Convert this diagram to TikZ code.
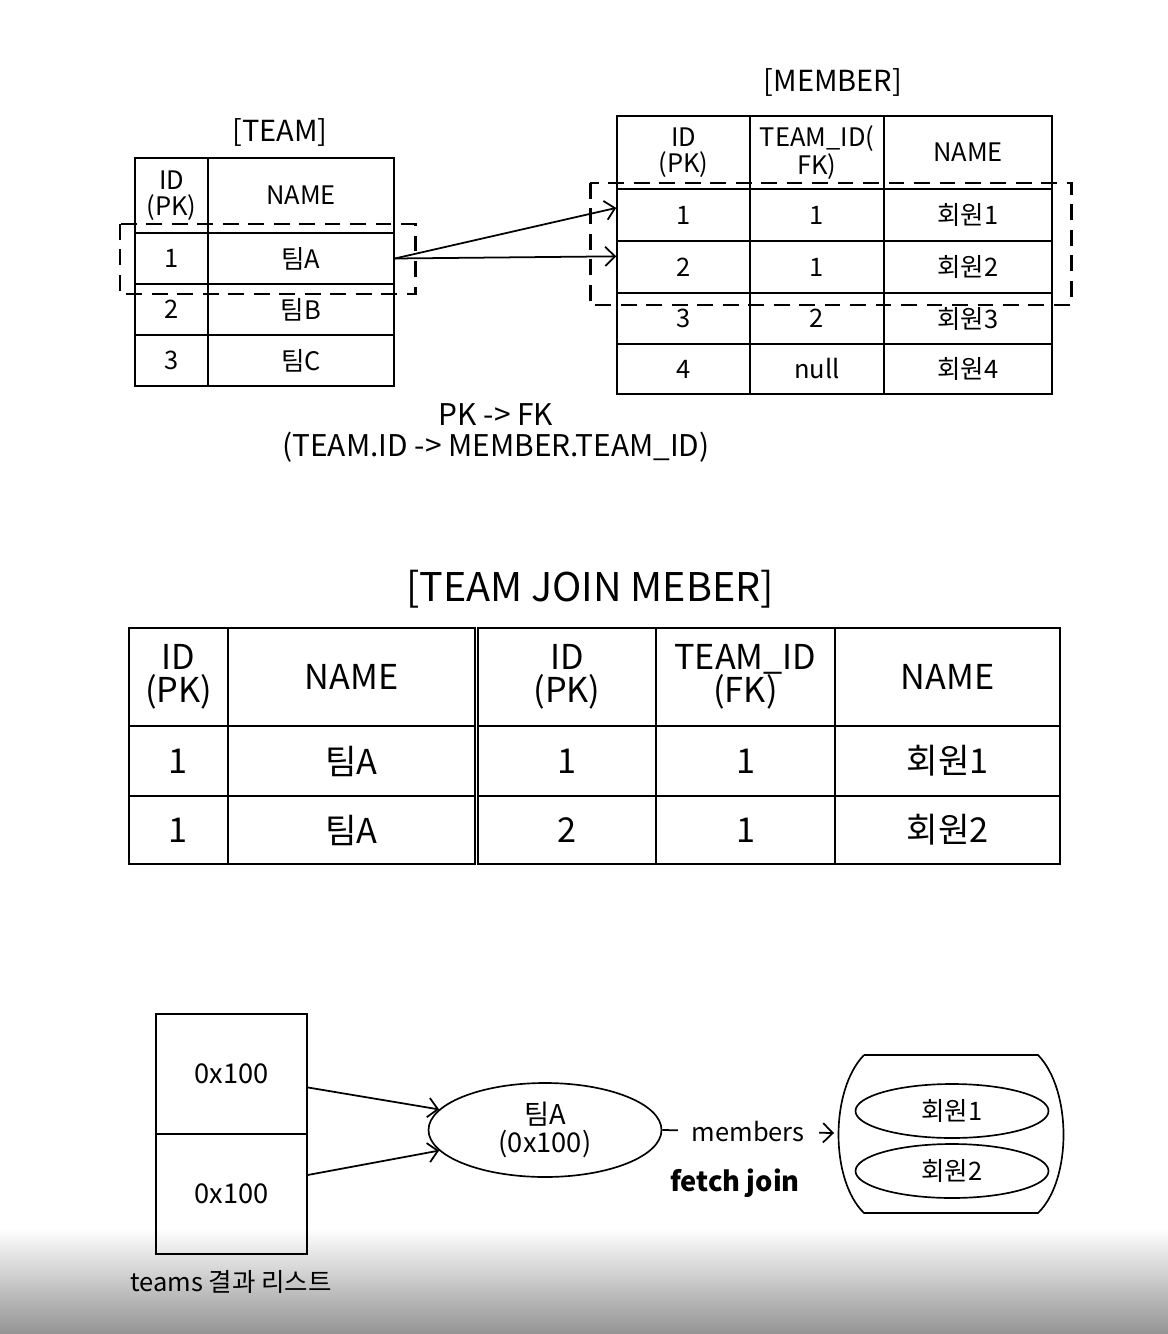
\documentclass[tikz,border=0pt]{standalone}
\usepackage{fontspec}
\setmainfont{Noto Sans CJK KR}
\usetikzlibrary{shapes.geometric,arrows.meta}

\newcommand\pxu{0.02cm}
% one table cell: name, x1, y1, x2, y2, text
\newcommand\tcell[6]{\node[cell, minimum width={(#4-#2)*\pxu}, minimum height={(#5-#3)*\pxu}]
  (#1) at ({(#2+#4)/2},{(#3+#5)/2}) {#6};}

\begin{document}
\begin{tikzpicture}[x=0.02cm, y=-0.02cm,
  cell/.style={draw, line width=0.95pt, inner sep=0pt, align=center,
    font=\fontsize{14.5}{14.5}\selectfont},
  joined/.style={cell/.append style={line width=1.4pt, font=\fontsize{19.5}{19}\selectfont}},
  sel/.style={line width=1.7pt, dash pattern=on 9pt off 5.5pt},
  title/.style={font=\fontsize{16.5}{18}\selectfont},
  plain/.style={font=\fontsize{15.5}{16}\selectfont, align=center},
  ref/.style={line width=1pt, -{Straight Barb[length=5.5pt,width=11pt]}}]
\useasboundingbox (0,0) rectangle (1168,1334);
\shade[top color=white, bottom color=black!42] (0,1228) rectangle (1168,1334);

\node[title] (teamtitle) at (280,132) {[TEAM]};
\tcell{tid0}{135}{158}{208}{233}{ID\\(PK)}
\tcell{tnm0}{208}{158}{394}{233}{NAME}
\tcell{tid1}{135}{233}{208}{284}{1}
\tcell{tnm1}{208}{233}{394}{284}{팀A}
\tcell{tid2}{135}{284}{208}{335}{2}
\tcell{tnm2}{208}{284}{394}{335}{팀B}
\tcell{tid3}{135}{335}{208}{386}{3}
\tcell{tnm3}{208}{335}{394}{386}{팀C}

\node[title] (membertitle) at (833,82) {[MEMBER]};
\tcell{mid0}{617}{116}{750}{189}{ID\\(PK)}
\tcell{mtid0}{750}{116}{884}{189}{TEAM\_ID(\\FK)}
\tcell{mnm0}{884}{116}{1052}{189}{NAME}
\tcell{mid1}{617}{189}{750}{241}{1}
\tcell{mtid1}{750}{189}{884}{241}{1}
\tcell{mnm1}{884}{189}{1052}{241}{회원1}
\tcell{mid2}{617}{241}{750}{293}{2}
\tcell{mtid2}{750}{241}{884}{293}{1}
\tcell{mnm2}{884}{241}{1052}{293}{회원2}
\tcell{mid3}{617}{293}{750}{344}{3}
\tcell{mtid3}{750}{293}{884}{344}{2}
\tcell{mnm3}{884}{293}{1052}{344}{회원3}
\tcell{mid4}{617}{344}{750}{394}{4}
\tcell{mtid4}{750}{344}{884}{394}{null}
\tcell{mnm4}{884}{344}{1052}{394}{회원4}

\draw[sel] (120,224) rectangle (415,294);
\draw[sel] (590,183) rectangle (1071,305);
\draw[ref] (tnm1.east) -- (mid1.174);
\draw[ref] (tnm1.east) -- (mid2.171);

\node[align=center, font=\fontsize{17}{18}\selectfont] (pkfk) at (496,433) {PK -> FK\\(TEAM.ID -> MEMBER.TEAM\_ID)};

\node[font=\fontsize{22.5}{24}\selectfont] (jointitle) at (590,589) {[TEAM JOIN MEBER]};
\begin{scope}[joined]
\tcell{jtid0}{129}{628}{228}{726}{ID\\(PK)}
\tcell{jtnm0}{228}{628}{475}{726}{NAME}
\tcell{jtid1}{129}{726}{228}{796}{1}
\tcell{jtnm1}{228}{726}{475}{796}{팀A}
\tcell{jtid2}{129}{796}{228}{864}{1}
\tcell{jtnm2}{228}{796}{475}{864}{팀A}
\tcell{jmid0}{478}{628}{656}{726}{ID\\(PK)}
\tcell{jmtid0}{656}{628}{835}{726}{TEAM\_ID\\(FK)}
\tcell{jmnm0}{835}{628}{1060}{726}{NAME}
\tcell{jmid1}{478}{726}{656}{796}{1}
\tcell{jmtid1}{656}{726}{835}{796}{1}
\tcell{jmnm1}{835}{726}{1060}{796}{회원1}
\tcell{jmid2}{478}{796}{656}{864}{2}
\tcell{jmtid2}{656}{796}{835}{864}{1}
\tcell{jmnm2}{835}{796}{1060}{864}{회원2}
\end{scope}

\tcell{ref1}{156}{1014}{307}{1134}{\fontsize{15.5}{16}\selectfont 0x100}
\tcell{ref2}{156}{1134}{307}{1254}{\fontsize{15.5}{16}\selectfont 0x100}
\node[plain, font=\fontsize{14.5}{16}\selectfont] (reslist) at (231,1282) {teams 결과 리스트};

\node[draw, ellipse, line width=0.95pt, plain, inner sep=0pt,
  minimum width={233*\pxu}, minimum height={94*\pxu}] (teamA) at (545,1130) {팀A\\(0x100)};
\draw[ref] (ref1.-10) -- (teamA.169);
\draw[ref] (ref2.14) -- (teamA.191);

\draw[line width=0.95pt] (864,1055) -- (1038,1055) .. controls (1072,1090) and (1072,1180) .. (1038,1213)
  -- (864,1213) .. controls (830,1180) and (830,1090) .. (864,1055);
\coordinate (members) at (834,1133);
\node[draw, ellipse, line width=0.95pt, plain, font=\fontsize{14.5}{16}\selectfont, inner sep=0pt,
  minimum width={193*\pxu}, minimum height={54*\pxu}] (m1) at (952,1111) {회원1};
\node[draw, ellipse, line width=0.95pt, plain, font=\fontsize{14.5}{16}\selectfont, inner sep=0pt,
  minimum width={193*\pxu}, minimum height={54*\pxu}] (m2) at (952,1171) {회원2};

\draw[ref] (teamA.east) -- node[fill=white, font=\fontsize{14.5}{16}\selectfont,
  inner xsep=8pt, inner ysep=3pt] {members} (members);
\node[font=\fontsize{15.5}{16}\bfseries] (fetch) at (735,1183) {fetch join};
\end{tikzpicture}
\end{document}
